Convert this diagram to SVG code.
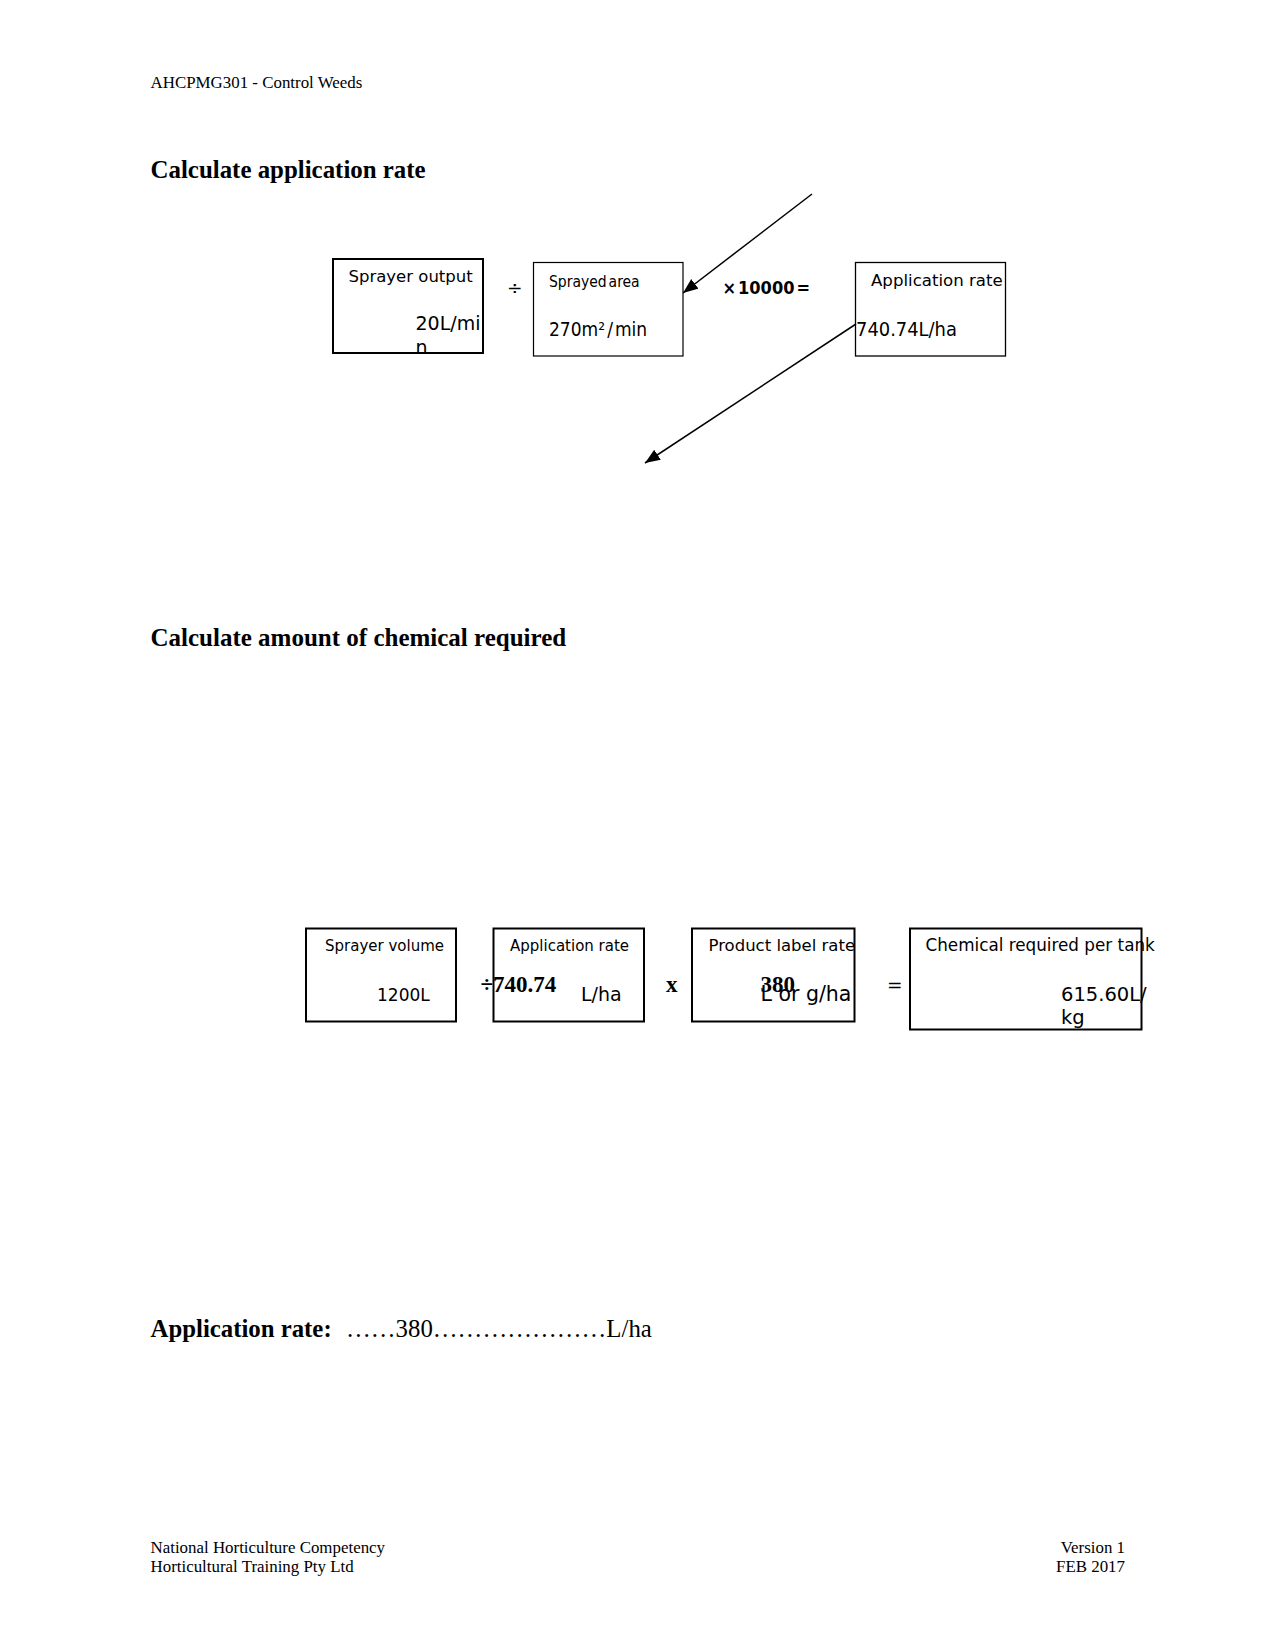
<svg xmlns="http://www.w3.org/2000/svg" width="1275" height="1650" viewBox="0 0 1275 1650">
<defs>
<style>
.serif{font-family:"Liberation Serif","Times New Roman",serif;fill:#000}
.sans{font-family:"DejaVu Sans",sans-serif;fill:#000}
.cond{font-family:"DejaVu Sans Condensed","DejaVu Sans",sans-serif;font-stretch:condensed;fill:#000}
.box{fill:none;stroke:#000}
.conn{stroke:#000;stroke-width:1.5;fill:none}
</style>
<marker id="ah" markerUnits="userSpaceOnUse" markerWidth="16" markerHeight="14" refX="15" refY="6" orient="auto">
<path d="M0,0 L15,6 L0,12 Z" fill="#000"/>
</marker>
</defs>
<rect width="1275" height="1650" fill="#fff"/>

<g id="header">
<text class="serif" x="150.5" y="88" font-size="16.9">AHCPMG301 - Control Weeds</text>
<text class="serif" x="150.5" y="178" font-size="24.9" font-weight="bold">Calculate application rate</text>
<text class="serif" x="150.5" y="646" font-size="25" font-weight="bold">Calculate amount of chemical required</text>
</g>

<g id="sprayer-output">
<text class="sans" x="348.5" y="282" font-size="16.5">Sprayer output</text>
<text class="sans" x="415.5" y="330" font-size="19">20L/mi</text>
<text class="sans" x="415.5" y="354" font-size="19">n</text>
<rect class="box" x="333" y="259" width="150" height="94" stroke-width="2"/>
</g>

<g id="op-divide">
<text class="sans" x="507" y="293.5" font-size="18.5">÷</text>
</g>

<g id="sprayed-area">
<rect class="box" x="533.5" y="262.5" width="149.5" height="93.5" stroke-width="1.2"/>
<text class="cond" x="549" y="287" font-size="15.5" word-spacing="-2.5">Sprayed area</text>
<text class="cond" x="549" y="336" font-size="19">270m²<tspan dx="2">/</tspan><tspan dx="2">min</tspan></text>
</g>

<g id="op-times">
<text class="cond" x="722.5" y="294" font-size="18" font-weight="bold">×<tspan dx="2">10000</tspan><tspan dx="2">=</tspan></text>
</g>

<g id="application-rate-1">
<rect class="box" x="855.5" y="262.5" width="150" height="93.5" stroke-width="1.3"/>
<text class="sans" x="871" y="286" font-size="16.6">Application rate</text>
<text class="cond" x="856" y="336" font-size="19.9">740.74L/ha</text>
</g>

<g id="connectors">
<line class="conn" x1="812" y1="194" x2="683" y2="293" marker-end="url(#ah)"/>
<line class="conn" x1="856" y1="324" x2="645" y2="463" marker-end="url(#ah)"/>
</g>

<g id="sprayer-volume">
<rect class="box" x="306" y="928.5" width="150" height="93" stroke-width="2"/>
<text class="sans" x="325" y="951" font-size="15">Sprayer volume</text>
<text class="sans" x="377" y="1001" font-size="17">1200L</text>
</g>

<g id="application-rate-2">
<rect class="box" x="493.5" y="928.5" width="150.5" height="93" stroke-width="2"/>
<text class="sans" x="510" y="951" font-size="15">Application rate</text>
<text class="serif" x="480.5" y="991.5" font-size="23" font-weight="bold">÷740.74</text>
<text class="sans" x="581" y="1000.5" font-size="19">L/ha</text>
</g>

<g id="op-x">
<text class="serif" x="666" y="991.5" font-size="23" font-weight="bold">x</text>
</g>

<g id="product-label-rate">
<rect class="box" x="692" y="928.5" width="162.5" height="93" stroke-width="2"/>
<text class="sans" x="708.5" y="951" font-size="16.5">Product label rate</text>
<text class="sans" x="760.5" y="1000.5" font-size="20.5">L or g/ha</text>
<text class="serif" x="760.5" y="991.5" font-size="23" font-weight="bold">380</text>
</g>

<g id="op-equals">
<text class="sans" x="887" y="990.5" font-size="18.5">=</text>
</g>

<g id="chemical-required">
<rect class="box" x="910" y="928.5" width="231.5" height="101" stroke-width="2"/>
<text class="sans" x="925.5" y="951" font-size="16.8">Chemical required per tank</text>
<text class="sans" x="1061" y="1000.5" font-size="19.5">615.60L/</text>
<text class="sans" x="1061" y="1024" font-size="19.5">kg</text>
</g>

<g id="answer">
<text class="serif" x="150.5" y="1337" font-size="24.8"><tspan font-weight="bold">Application rate:</tspan><tspan x="346">……380…………………L/ha</tspan></text>
</g>

<g id="footer">
<text class="serif" x="150.5" y="1552.5" font-size="16.9">National Horticulture Competency</text>
<text class="serif" x="150.5" y="1571.5" font-size="16.9">Horticultural Training Pty Ltd</text>
<text class="serif" x="1125" y="1552.5" font-size="16.9" text-anchor="end">Version 1</text>
<text class="serif" x="1125" y="1571.5" font-size="16.9" text-anchor="end">FEB 2017</text>
</g>
</svg>
